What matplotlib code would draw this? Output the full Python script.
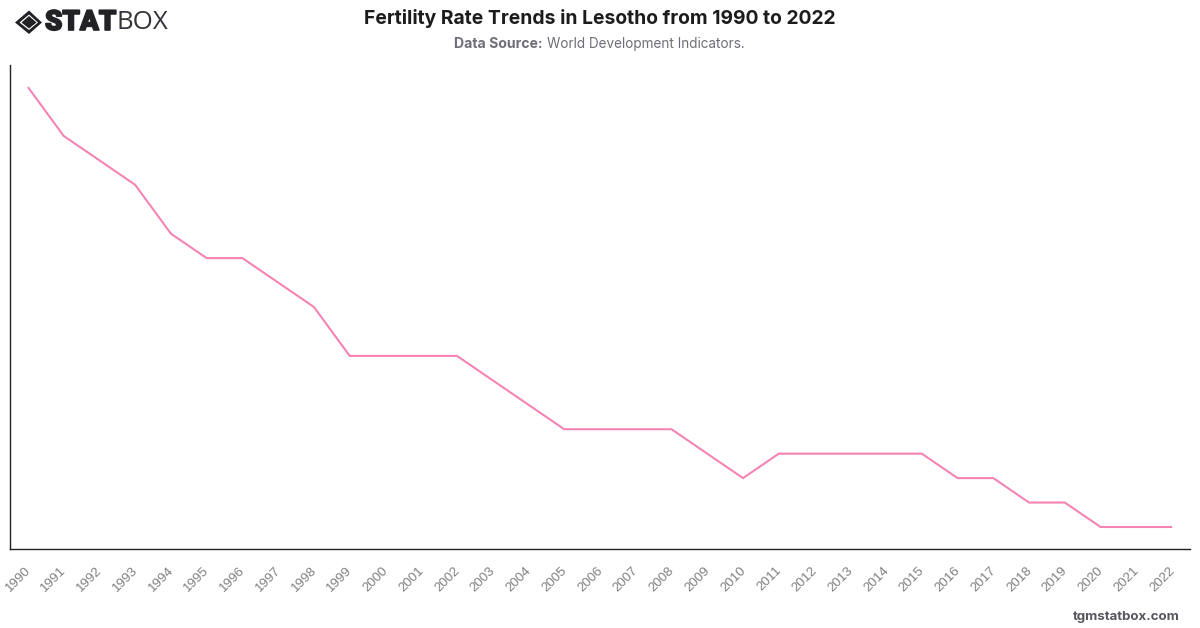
import matplotlib
matplotlib.use("Agg")
import matplotlib.pyplot as plt
import matplotlib.patheffects as pe
from matplotlib.patches import Polygon
from matplotlib.transforms import ScaledTranslation

years = list(range(1990, 2023))
fertility_rate = [4.5, 4.3, 4.2, 4.1, 3.9, 3.8, 3.8, 3.7, 3.6, 3.4, 3.4, 3.4, 3.4,
                  3.3, 3.2, 3.1, 3.1, 3.1, 3.1, 3.0, 2.9, 3.0, 3.0, 3.0, 3.0, 3.0,
                  2.9, 2.9, 2.8, 2.8, 2.7, 2.7, 2.7]
title = "Fertility Rate Trends in Lesotho from 1990 to 2022"
W, H = 1200, 628

fig = plt.figure(figsize=(W / 100, H / 100), dpi=100, facecolor="white")
ax = fig.add_axes([10 / W, 1 - 549 / H, (1190 - 10) / W, (549 - 65) / H])

positions = list(range(len(years)))
ax.plot(positions, fertility_rate, color="#f584b4", lw=1.5, solid_joinstyle="miter",
        solid_capstyle="butt")
ax.set_xlim(-0.5, len(years) - 0.5)
ax.set_ylim(min(fertility_rate) - 0.09, max(fertility_rate) + 0.09)

for side in ("top", "right"):
    ax.spines[side].set_visible(False)
for side in ("left", "bottom"):
    ax.spines[side].set_color("#222222")
    ax.spines[side].set_linewidth(1.0)

ax.set_yticks([])
ax.set_xticks(positions)
ax.set_xticklabels(years, rotation=45, ha="right", rotation_mode="anchor",
                   fontsize=9.6, color="#808080", family="Liberation Sans")
ax.tick_params(axis="x", length=0, pad=11)
for lab in ax.get_xticklabels():
    lab.set_transform(lab.get_transform() + ScaledTranslation(-3.5 / 100, 0, fig.dpi_scale_trans))

# Header
fig.text(600 / W, 1 - 18 / H, title, ha="center", va="center", fontsize=13.9,
         fontweight="bold", family="Inter", color="#1c1c1e")
fig.text(454.5 / W, 1 - 44 / H, "Data Source:", ha="left", va="center", fontsize=10.1,
         fontweight="bold", family="Inter", color="#6e6e78")
fig.text(547 / W, 1 - 44 / H, "World Development Indicators.", ha="left", va="center",
         fontsize=9.75, family="Inter", color="#6e6e78")
fig.text(1180 / W, 1 - 617 / H, "tgmstatbox.com", ha="right", va="center", fontsize=9.55,
         fontweight="bold", family="Inter", color="#55555c")

# Logo: diamond emblem and wordmark
def px_poly(points, **kw):
    fig.add_artist(Polygon([(x / W, 1 - y / H) for x, y in points], closed=True,
                           transform=fig.transFigure, **kw))

dark = "#222226"
px_poly([(29, 10.5), (42, 22.5), (29, 34), (15, 22.5)], fc=dark, ec="none")
px_poly([(29, 14.5), (38, 22.5), (29, 30), (19.5, 22.5)], fc="white", ec="none")
px_poly([(29, 16), (36.5, 22.5), (29, 28.5), (21.5, 22.5)], fc=dark, ec="none")
fig.text(45 / W, 1 - 22.5 / H, "STAT", ha="left", va="center", fontsize=20,
         fontweight="black", family="Roboto", color=dark,
         path_effects=[pe.withStroke(linewidth=1.2, foreground=dark)])
fig.text(116.5 / W, 1 - 22.5 / H, "BOX", ha="left", va="center", fontsize=18.6,
         fontweight="normal", family="Open Sans", color="#33333a")

fig.savefig("out.png", dpi=100, facecolor="white")
